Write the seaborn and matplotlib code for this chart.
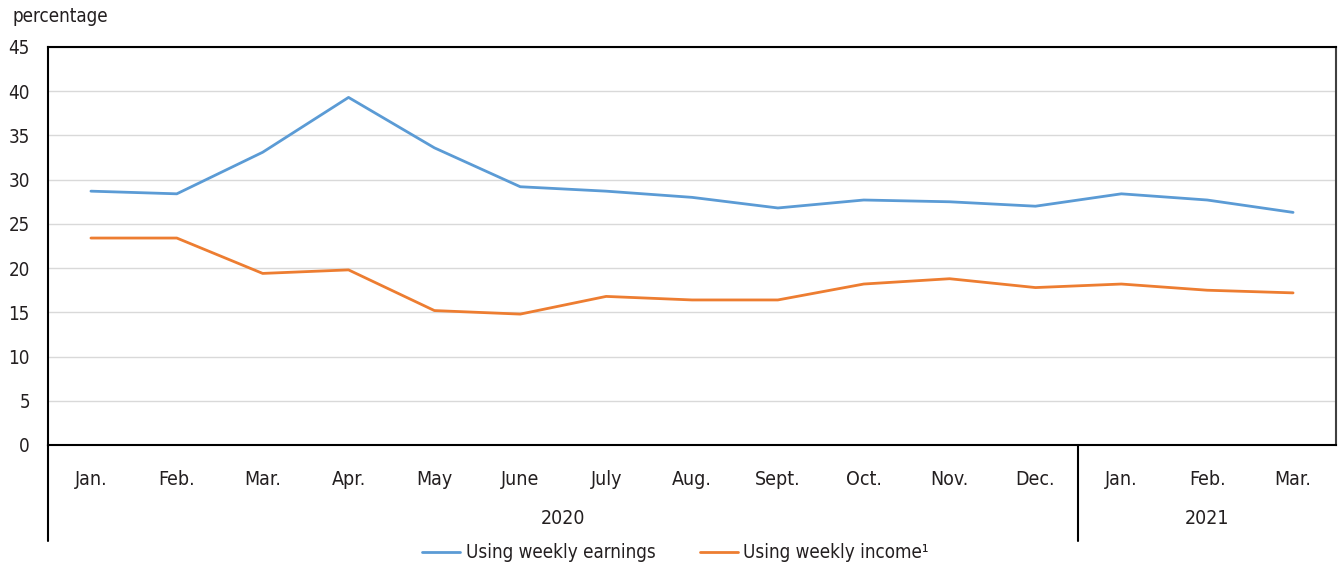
"""
Share of workers below threshold, 2020-2021
"""
import pandas as pd
import numpy as np
import matplotlib.pyplot as plt
import matplotlib.transforms as mtransforms
from matplotlib import font_manager
import seaborn as sns

# Data
months = ['Jan.', 'Feb.', 'Mar.', 'Apr.', 'May', 'June', 'July', 'Aug.',
          'Sept.', 'Oct.', 'Nov.', 'Dec.', 'Jan.', 'Feb.', 'Mar.']
years = ['2020'] * 12 + ['2021'] * 3
earnings = [28.7, 28.4, 33.1, 39.3, 33.6, 29.2, 28.7, 28.0, 26.8, 27.7,
            27.5, 27.0, 28.4, 27.7, 26.3]
income = [23.4, 23.4, 19.4, 19.8, 15.2, 14.8, 16.8, 16.4, 16.4, 18.2,
          18.8, 17.8, 18.2, 17.5, 17.2]
series_names = ['Using weekly earnings', 'Using weekly income\u00b9']
colors = ['#5B9BD5', '#ED7D31']

sns.set_theme(style='white')

# look for a condensed sans face, the original uses a narrow font
narrow = None
for f in font_manager.fontManager.ttflist:
    if ('Narrow' in f.name or 'Condensed' in f.name or
            f.stretch in ('condensed', 'semi-condensed')) and 'Mono' not in f.name \
            and 'Serif' not in f.name and f.weight in (400, 'normal', 'regular'):
        narrow = f
        break
if narrow is not None:
    plt.rcParams['font.family'] = [narrow.name, 'DejaVu Sans']
    plt.rcParams['font.stretch'] = narrow.stretch
else:
    plt.rcParams['font.family'] = ['Liberation Sans', 'DejaVu Sans']
text_color = '#231F20'

# Long format for seaborn
idx = np.arange(len(months))
df = pd.DataFrame({
    'pos': np.concatenate([idx, idx]),
    'value': earnings + income,
    'series': [series_names[0]] * len(idx) + [series_names[1]] * len(idx),
})

fig = plt.figure(figsize=(13.38, 5.67), dpi=100)
ax = fig.add_axes([48 / 1338, 1 - 445 / 567, 1288 / 1338, 398 / 567])

sns.lineplot(data=df, x='pos', y='value', hue='series', palette=colors,
             linewidth=2, ax=ax, legend=False)

ax.set_xlim(-0.5, len(months) - 0.5)
ax.set_ylim(0, 45)
ax.set_yticks(range(0, 46, 5))
ax.yaxis.grid(True, color='#D9D9D9', linewidth=1)
ax.set_axisbelow(True)
ax.tick_params(axis='y', length=0, labelsize=13.5, labelcolor=text_color, pad=13)
ax.set_xticks(idx)
ax.set_xticklabels(months)
ax.tick_params(axis='x', length=0, labelsize=14, labelcolor=text_color, pad=18)
ax.set_xlabel('')
ax.set_ylabel('')
for side in ['left', 'bottom', 'top']:
    ax.spines[side].set_color('black')
    ax.spines[side].set_linewidth(1.5)
ax.spines['right'].set_color('#404040')
ax.spines['right'].set_linewidth(1.5)

# Year group labels and separators below the axis
trans = mtransforms.blended_transform_factory(ax.transData, ax.transAxes)
drop = -(541 - 445) / 398
for xpos in [-0.5, 11.5]:
    ax.plot([xpos, xpos], [0, drop], transform=trans, color='black',
            linewidth=1.5, clip_on=False)
for yr in ['2020', '2021']:
    pos = idx[np.array(years) == yr]
    ax.text(pos.mean(), -(518 - 445) / 398, yr, transform=trans, ha='center',
            va='center', fontsize=14, color=text_color)

fig.text(12 / 1338, 1 - 17 / 567, 'percentage', ha='left', va='center',
         fontsize=13.5, color=text_color)

handles = [plt.Line2D([], [], color=c, linewidth=2) for c in colors]
fig.legend(handles, series_names, loc='center', bbox_to_anchor=(0.505, 1 - 553 / 567),
           ncol=2, frameon=False, fontsize=13.5, handlelength=2.0, handletextpad=0.3,
           columnspacing=2.4, labelcolor=text_color)

plt.savefig('out.png', dpi=100)
